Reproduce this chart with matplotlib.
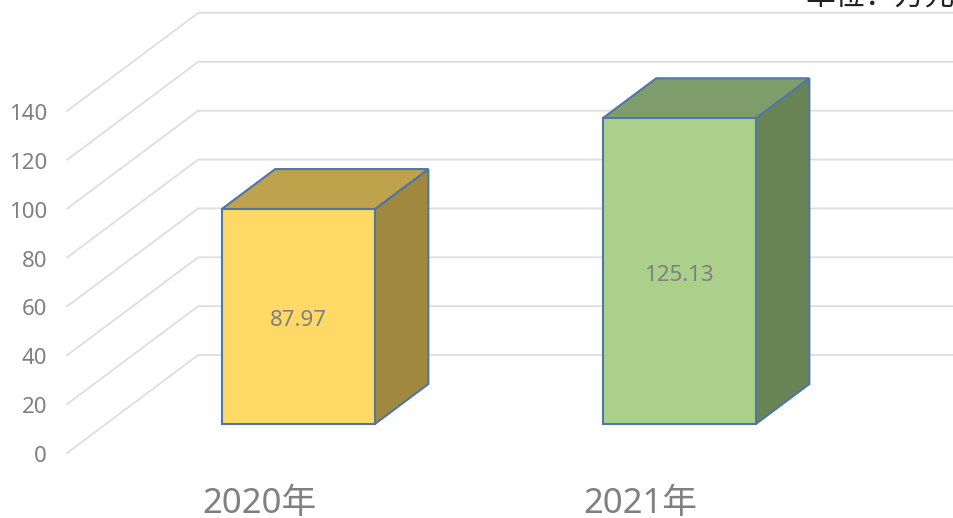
import matplotlib
matplotlib.use('Agg')
import matplotlib.pyplot as plt
from matplotlib.patches import Polygon

plt.rcParams['font.family'] = ['Noto Sans', 'Noto Sans CJK SC', 'DejaVu Sans']

# data
categories = ['2020年', '2021年']
values = [87.97, 125.13]
value_labels = ['87.97', '125.13']
y_ticks = [0, 20, 40, 60, 80, 100, 120, 140]
unit_label = '单位：万元'

front_colors = ['#FFD966', '#ABD08C']
side_colors = ['#A0883F', '#6A8555']
top_colors = ['#BFA24C', '#7F9D6B']
edge_color = '#4F76A6'
grid_color = '#DEDEDE'
text_color = '#808080'

# 3d look: how far the back wall sits from the front of the floor, in data units
depth_x = 0.344
depth_y = 40.1
bar_half = 0.201
bar_front = 0.296
bar_back = 0.704


def project(x, v, d):
    return (x + depth_x * d, v + depth_y * d)


fig = plt.figure(figsize=(9.54, 5.18), dpi=100)
ax = fig.add_axes([0, 0, 1, 1])
ax.set_xlim(-0.6811, 1.8228)
ax.set_ylim(-26.6, 185.4)
ax.axis('off')

# floor and wall gridlines
wall_x = -0.505
right_x = 1.8228
for v in y_ticks:
    p0 = project(wall_x, v, 0)
    p1 = project(wall_x, v, 1)
    ax.plot([p0[0], p1[0], right_x], [p0[1], p1[1], p1[1]],
            color=grid_color, lw=1.3, zorder=1, solid_joinstyle='miter')
    ax.annotate(str(v), xy=p0, xytext=(-14.5, -2.5), textcoords='offset points',
                ha='right', va='center', fontsize=16, color=text_color)

# boxes
for i, v in enumerate(values):
    l, r = i - bar_half, i + bar_half
    front = [project(l, 0, bar_front), project(r, 0, bar_front),
             project(r, v, bar_front), project(l, v, bar_front)]
    side = [project(r, 0, bar_front), project(r, 0, bar_back),
            project(r, v, bar_back), project(r, v, bar_front)]
    top = [project(l, v, bar_front), project(r, v, bar_front),
           project(r, v, bar_back), project(l, v, bar_back)]
    for pts, c in [(side, side_colors[i]), (top, top_colors[i]), (front, front_colors[i])]:
        ax.add_patch(Polygon(pts, closed=True, facecolor=c, edgecolor=edge_color,
                             lw=1.5, joinstyle='miter', zorder=3))
    cx, cy = project(i, v / 2, bar_front)
    ax.annotate(value_labels[i], xy=(cx, cy), xytext=(0, -3), textcoords='offset points',
                ha='center', va='center', fontsize=16, color=text_color, zorder=4)
    # category label under the front of the floor
    ax.annotate(categories[i], xy=(i, 0), xytext=(0, -37), textcoords='offset points',
                ha='center', va='center', fontsize=25, color=text_color)

# unit note, runs off the top right of the image
fig.text(805 / 954, 1 - 6 / 518, unit_label, ha='left', va='baseline',
         fontsize=21.5, color='#222222')

fig.savefig('out.png', dpi=100)
